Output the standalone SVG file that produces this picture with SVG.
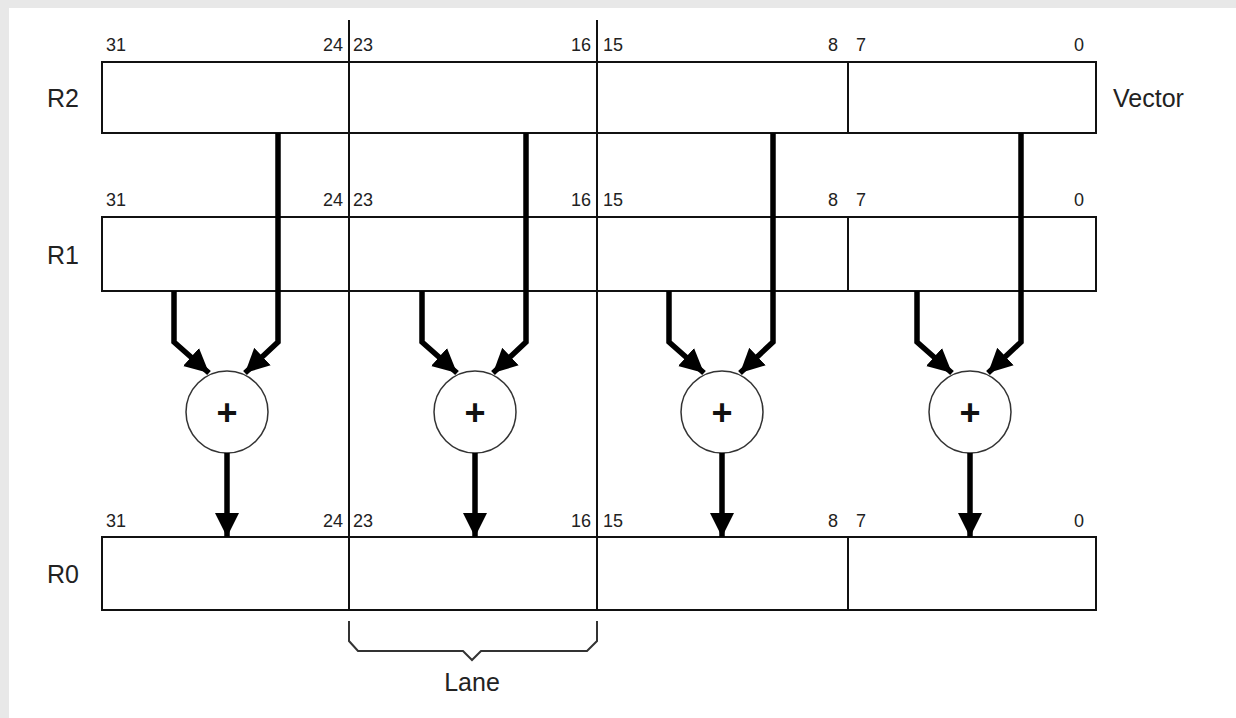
<svg xmlns="http://www.w3.org/2000/svg" width="1236" height="718" viewBox="0 0 1236 718">
  <style>
    .reg { fill: #ffffff; stroke: #111111; stroke-width: 2; }
    .div { stroke: #111111; stroke-width: 2; fill: none; }
    .bit { font-family: "Liberation Sans", Arial, sans-serif; font-size: 18px; fill: #222222; }
    .lbl { font-family: "Liberation Sans", Arial, sans-serif; font-size: 25px; fill: #222222; }
    .adder { fill: #ffffff; stroke: #333333; stroke-width: 1.5; }
    .plus { font-family: "Liberation Sans", Arial, sans-serif; font-size: 36px; font-weight: bold; fill: #111111; }
    .flow { stroke: #000000; stroke-width: 5.5; fill: none; stroke-linejoin: miter; }
    .brace { stroke: #333333; stroke-width: 2; fill: none; }
  </style>
  <defs>
    <marker id="head" markerUnits="userSpaceOnUse" markerWidth="26" markerHeight="26" viewBox="0 0 26 26" refX="24" refY="13" orient="auto">
      <path d="M0,1 L24,13 L0,25 Z" fill="#000000"/>
    </marker>
  </defs>

  <!-- page background -->
  <rect x="0" y="0" width="1236" height="718" fill="#e8e8e8"/>
  <rect x="9" y="8" width="1227" height="710" fill="#ffffff"/>

  <!-- register R2 -->
  <g id="R2">
    <rect class="reg" x="102" y="62" width="994" height="71"/>
    <line class="div" x1="848" y1="62" x2="848" y2="133"/>
    <text class="lbl" x="47" y="107">R2</text>
    <text class="lbl" x="1113" y="107">Vector</text>
    <text class="bit" x="106" y="51">31</text>
    <text class="bit" x="343" y="51" text-anchor="end">24</text>
    <text class="bit" x="353" y="51">23</text>
    <text class="bit" x="591" y="51" text-anchor="end">16</text>
    <text class="bit" x="603" y="51">15</text>
    <text class="bit" x="838" y="51" text-anchor="end">8</text>
    <text class="bit" x="856" y="51">7</text>
    <text class="bit" x="1084" y="51" text-anchor="end">0</text>
  </g>

  <!-- register R1 -->
  <g id="R1">
    <rect class="reg" x="102" y="217" width="994" height="74"/>
    <line class="div" x1="848" y1="217" x2="848" y2="291"/>
    <text class="lbl" x="47" y="264">R1</text>
    <text class="bit" x="106" y="206">31</text>
    <text class="bit" x="343" y="206" text-anchor="end">24</text>
    <text class="bit" x="353" y="206">23</text>
    <text class="bit" x="591" y="206" text-anchor="end">16</text>
    <text class="bit" x="603" y="206">15</text>
    <text class="bit" x="838" y="206" text-anchor="end">8</text>
    <text class="bit" x="856" y="206">7</text>
    <text class="bit" x="1084" y="206" text-anchor="end">0</text>
  </g>

  <!-- register R0 -->
  <g id="R0">
    <rect class="reg" x="102" y="537" width="994" height="73"/>
    <line class="div" x1="848" y1="537" x2="848" y2="610"/>
    <text class="lbl" x="47" y="583">R0</text>
    <text class="bit" x="106" y="527">31</text>
    <text class="bit" x="343" y="527" text-anchor="end">24</text>
    <text class="bit" x="353" y="527">23</text>
    <text class="bit" x="591" y="527" text-anchor="end">16</text>
    <text class="bit" x="603" y="527">15</text>
    <text class="bit" x="838" y="527" text-anchor="end">8</text>
    <text class="bit" x="856" y="527">7</text>
    <text class="bit" x="1084" y="527" text-anchor="end">0</text>
  </g>

  <!-- lane boundaries running through all registers -->
  <g id="lane-boundaries">
    <line class="div" x1="349" y1="20" x2="349" y2="610"/>
    <line class="div" x1="597" y1="20" x2="597" y2="610"/>
  </g>

  <!-- adders -->
  <g id="add3">
    <circle class="adder" cx="227" cy="412" r="41"/>
    <text class="plus" x="227" y="425" text-anchor="middle">+</text>
  </g>
  <g id="add2">
    <circle class="adder" cx="475" cy="412" r="41"/>
    <text class="plus" x="475" y="425" text-anchor="middle">+</text>
  </g>
  <g id="add1">
    <circle class="adder" cx="722" cy="412" r="41"/>
    <text class="plus" x="722" y="425" text-anchor="middle">+</text>
  </g>
  <g id="add0">
    <circle class="adder" cx="970" cy="412" r="41"/>
    <text class="plus" x="970" y="425" text-anchor="middle">+</text>
  </g>

  <!-- data flow -->
  <g id="connectors">
    <path class="flow" d="M278,133 V342 L245,373" marker-end="url(#head)"/>
    <path class="flow" d="M174,291 V342 L209,373" marker-end="url(#head)"/>
    <path class="flow" d="M227,453 V537" marker-end="url(#head)"/>

    <path class="flow" d="M526,133 V342 L493,373" marker-end="url(#head)"/>
    <path class="flow" d="M422,291 V342 L457,373" marker-end="url(#head)"/>
    <path class="flow" d="M475,453 V537" marker-end="url(#head)"/>

    <path class="flow" d="M773,133 V342 L740,373" marker-end="url(#head)"/>
    <path class="flow" d="M669,291 V342 L704,373" marker-end="url(#head)"/>
    <path class="flow" d="M722,453 V537" marker-end="url(#head)"/>

    <path class="flow" d="M1021,133 V342 L988,373" marker-end="url(#head)"/>
    <path class="flow" d="M917,291 V342 L952,373" marker-end="url(#head)"/>
    <path class="flow" d="M970,453 V537" marker-end="url(#head)"/>
  </g>

  <!-- lane brace -->
  <g id="lane">
    <path class="brace" d="M349,621 V641 L358,651 H463 L472,660 L481,651 H587 L597,641 V621"/>
    <text class="lbl" x="472" y="691" text-anchor="middle">Lane</text>
  </g>
</svg>
